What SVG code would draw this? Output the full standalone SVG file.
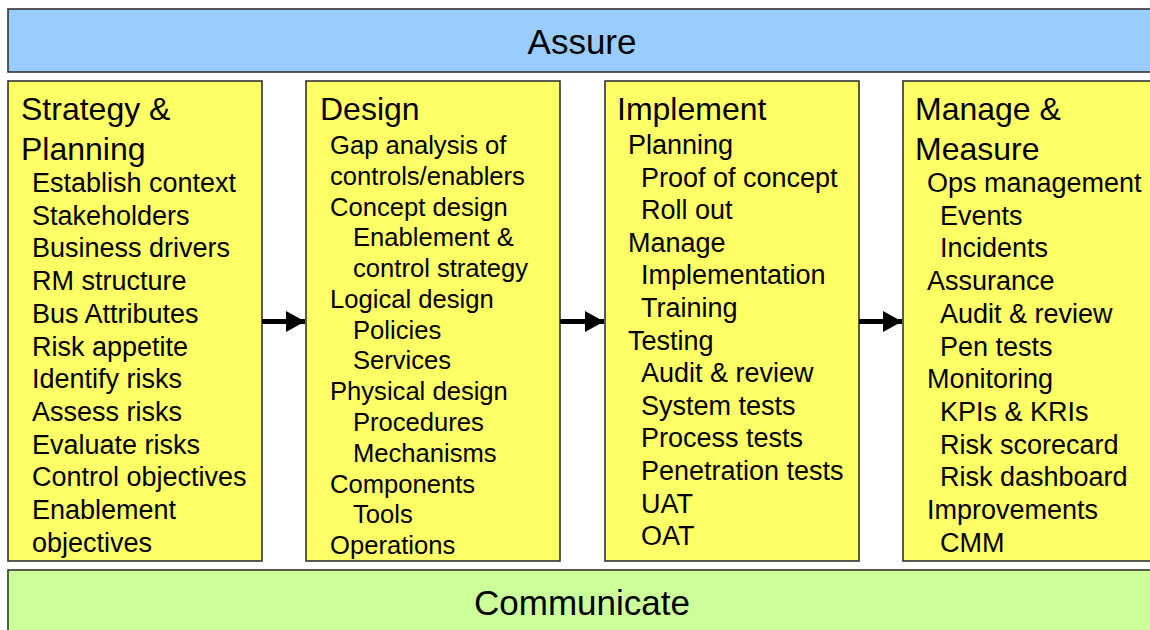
<svg xmlns="http://www.w3.org/2000/svg" width="1150" height="630" viewBox="0 0 1150 630">
<defs>
<marker id="ah" markerUnits="userSpaceOnUse" markerWidth="20" markerHeight="22" refX="19" refY="10.5" orient="auto">
<path d="M0,0 L19,10.5 L0,21 Z" fill="#000"/>
</marker>
</defs>
<style>
.box{stroke:#333;stroke-width:1.6}
.t{font-family:"Liberation Sans",Arial,sans-serif;fill:#000}
.h{font-size:32px}
.i{font-size:27px}
.j{font-size:25.6px}
.b{font-size:35px}
.c{stroke:#000;stroke-width:5;fill:none}
</style>
<rect width="1150" height="630" fill="#fff"/>
<g id="assure">
<rect class="box" x="8" y="9" width="1150" height="63" fill="#99CCFF"/>
<text class="t b" x="582" y="54" text-anchor="middle">Assure</text>
</g>
<g id="communicate">
<rect class="box" x="8" y="570" width="1150" height="70" fill="#CCFF99"/>
<text class="t b" x="582" y="615" text-anchor="middle">Communicate</text>
</g>
<g id="strategy">
<rect class="box" x="8" y="81" width="254" height="480" fill="#FFFF66"/>
<text class="t h" x="21" y="120">Strategy &amp;</text>
<text class="t h" x="21" y="160">Planning</text>
<g class="t i">
<text x="32" y="192">Establish context</text>
<text x="32" y="224.7">Stakeholders</text>
<text x="32" y="257.4">Business drivers</text>
<text x="32" y="290.1">RM structure</text>
<text x="32" y="322.8">Bus Attributes</text>
<text x="32" y="355.5">Risk appetite</text>
<text x="32" y="388.2">Identify risks</text>
<text x="32" y="420.9">Assess risks</text>
<text x="32" y="453.6">Evaluate risks</text>
<text x="32" y="486.3">Control objectives</text>
<text x="32" y="519">Enablement</text>
<text x="32" y="551.7">objectives</text>
</g>
</g>
<g id="design">
<rect class="box" x="306" y="81" width="254" height="480" fill="#FFFF66"/>
<text class="t h" x="320" y="120">Design</text>
<g class="t j">
<text x="330" y="154">Gap analysis of</text>
<text x="330" y="184.8">controls/enablers</text>
<text x="330" y="215.5">Concept design</text>
<text x="353" y="246.3">Enablement &amp;</text>
<text x="353" y="277.1">control strategy</text>
<text x="330" y="307.9">Logical design</text>
<text x="353" y="338.6">Policies</text>
<text x="353" y="369.4">Services</text>
<text x="330" y="400.2">Physical design</text>
<text x="353" y="430.9">Procedures</text>
<text x="353" y="461.7">Mechanisms</text>
<text x="330" y="492.5">Components</text>
<text x="353" y="523.2">Tools</text>
<text x="330" y="554">Operations</text>
</g>
</g>
<g id="implement">
<rect class="box" x="605" y="81" width="254" height="480" fill="#FFFF66"/>
<text class="t h" x="617" y="120">Implement</text>
<g class="t i">
<text x="628" y="154">Planning</text>
<text x="641" y="186.6">Proof of concept</text>
<text x="641" y="219.2">Roll out</text>
<text x="628" y="251.8">Manage</text>
<text x="641" y="284.4">Implementation</text>
<text x="641" y="317">Training</text>
<text x="628" y="349.6">Testing</text>
<text x="641" y="382.2">Audit &amp; review</text>
<text x="641" y="414.8">System tests</text>
<text x="641" y="447.4">Process tests</text>
<text x="641" y="480">Penetration tests</text>
<text x="641" y="512.6">UAT</text>
<text x="641" y="545.2">OAT</text>
</g>
</g>
<g id="manage">
<rect class="box" x="903" y="81" width="254" height="480" fill="#FFFF66"/>
<text class="t h" x="915" y="120">Manage &amp;</text>
<text class="t h" x="915" y="160">Measure</text>
<g class="t i">
<text x="927" y="192">Ops management</text>
<text x="940" y="224.7">Events</text>
<text x="940" y="257.4">Incidents</text>
<text x="927" y="290.1">Assurance</text>
<text x="940" y="322.8">Audit &amp; review</text>
<text x="940" y="355.5">Pen tests</text>
<text x="927" y="388.2">Monitoring</text>
<text x="940" y="420.9">KPIs &amp; KRIs</text>
<text x="940" y="453.6">Risk scorecard</text>
<text x="940" y="486.3">Risk dashboard</text>
<text x="927" y="519">Improvements</text>
<text x="940" y="551.7">CMM</text>
</g>
</g>
<g id="connectors">
<line class="c" x1="262" y1="321.5" x2="305" y2="321.5" marker-end="url(#ah)"/>
<line class="c" x1="560" y1="321.5" x2="604" y2="321.5" marker-end="url(#ah)"/>
<line class="c" x1="859" y1="321.5" x2="902" y2="321.5" marker-end="url(#ah)"/>
</g>
</svg>
